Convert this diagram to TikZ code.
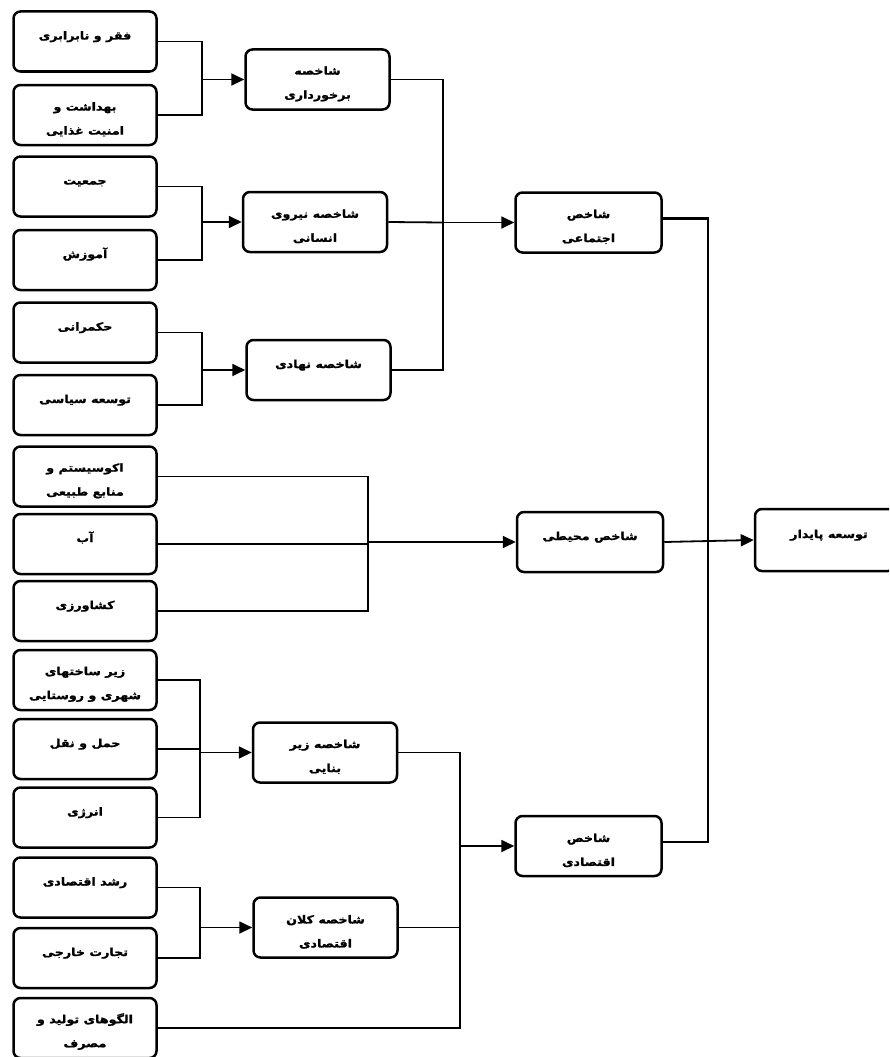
\documentclass[tikz,border=0pt]{standalone}
\usepackage{fontspec}
\usetikzlibrary{arrows.meta}
\TeXXeTstate=1
\newfontfamily\arabicfont[Script=Arabic, FakeStretch=1.15, BoldFeatures={FakeBold=1.5}]{DejaVu Sans}
\newcommand{\fa}[1]{{\arabicfont\bfseries\beginR #1\endR}}
\newcommand{\fb}[1]{\rule{0pt}{17pt}{\arabicfont\bfseries\beginR #1\endR}}
\newcommand{\fo}[1]{\raisebox{2pt}[0pt][0pt]{\fa{#1}}}
\begin{document}
\begin{tikzpicture}[x=1pt,y=-1pt,
  box/.style={draw, line width=2.5pt, rounded corners=7pt, minimum height=60pt, align=center, inner sep=1pt, font=\fontsize{11}{24}\selectfont},
  lbox/.style={box, minimum width=143pt},
  mbox/.style={box, minimum width=144pt},
  rbox/.style={box, minimum width=146pt},
  con/.style={line width=1.8pt},
  arr/.style={line width=1.8pt, -{Triangle[length=13pt,width=12pt]}}]
\useasboundingbox (0,0) rectangle (889,1057);
\clip (0,0) rectangle (889,1057);
% left column
\node[lbox] (L1) at (85,41.5) {\fo{فقر و نابرابری}};
\node[lbox] (L2) at (85,115) {\fb{بهداشت و}\\\fa{امنیت غذایی}};
\node[lbox] (L3) at (85,186.5) {\fo{جمعیت}};
\node[lbox] (L4) at (85,260) {\fo{آموزش}};
\node[lbox] (L5) at (85,332.5) {\fo{حکمرانی}};
\node[lbox] (L6) at (85,405) {\fo{توسعه سیاسی}};
\node[lbox] (L7) at (85,476.5) {\fb{اکوسیستم و}\\\fa{منابع طبیعی}};
\node[lbox] (L8) at (85,544) {\fo{آب}};
\node[lbox] (L9) at (85,611) {\fo{کشاورزی}};
\node[lbox] (L10) at (85,680) {\fb{زیر ساختهای}\\\fa{شهری و روستایی}};
\node[lbox] (L11) at (85,749) {\fo{حمل و نقل}};
\node[lbox] (L12) at (85,817.5) {\fo{انرژی}};
\node[lbox] (L13) at (85,887.5) {\fo{رشد اقتصادی}};
\node[lbox] (L14) at (85,958) {\fo{تجارت خارجی}};
\node[lbox] (L15) at (85,1028) {\fb{الگوهای تولید و}\\\fa{مصرف}};
% middle column
\node[mbox] (M1) at (317.5,79.5) {\fb{شاخصه}\\\fa{برخورداری}};
\node[mbox] (M2) at (315,222) {\fb{شاخصه نیروی}\\\fa{انسانی}};
\node[mbox] (M3) at (318.5,370) {\fo{شاخصه نهادی}};
\node[mbox] (M4) at (325,752.5) {\fb{شاخصه زیر}\\\fa{بنایی}};
\node[mbox] (M5) at (325.5,927.5) {\fb{شاخصه کلان}\\\fa{اقتصادی}};
% right column
\node[rbox] (R1) at (588.5,222.5) {\fb{شاخص}\\\fa{اجتماعی}};
\node[rbox] (R2) at (590,542) {\fo{شاخص محیطی}};
\node[rbox] (R3) at (588.5,846) {\fb{شاخص}\\\fa{اقتصادی}};
\node[rbox, minimum width=140pt, minimum height=62pt] (F) at (825,540) {\hspace*{8pt}\fo{توسعه پایدار}};
% junction coordinates
\coordinate (j1) at (202,79.5);
\coordinate (j2) at (202,222);
\coordinate (j3) at (202,370);
\coordinate (j4) at (368,542);
\coordinate (j5) at (200,752.5);
\coordinate (j6) at (200,927.5);
\coordinate (js) at (443,222.5);
\coordinate (je) at (460,846);
\coordinate (jf) at (708,540);
% group 1
\draw[con] (L1.east) -| (j1) |- (L2.east);
\draw[arr] (j1) -- (M1.west);
% group 2
\draw[con] (L3.east) -| (j2) |- (L4.east);
\draw[arr] (j2) -- (M2.west);
% group 3
\draw[con] (L5.east) -| (j3) |- (L6.east);
\draw[arr] (j3) -- (M3.west);
% group 4
\draw[con] (L7.east) -| (j4) |- (L9.east);
\draw[con] (L8.east) -- (L8.east -| j4);
\draw[arr] (j4) -- (R2.west);
% group 5
\draw[con] (L10.east) -| (j5) |- (L12.east);
\draw[con] (L11.east) -- (L11.east -| j5);
\draw[arr] (j5) -- (M4.west);
% group 6
\draw[con] (L13.east) -| (j6) |- (L14.east);
\draw[arr] (j6) -- (M5.west);
% social
\draw[con] (M1.east) -| (js) |- (M3.east);
\draw[con] (M2.east) -- (js);
\draw[arr] (js) -- (R1.west);
% economic
\draw[con] (M4.east) -| (je) |- (L15.east);
\draw[con] (M5.east) -- (M5.east -| je);
\draw[arr] (je) -- (R3.west);
% final
\draw[con, line width=2.2pt] ([yshift=4pt]R1.east) -| (jf) |- ([yshift=4pt]R3.east);
\draw[arr] (R2.east) -- (F.west);
\end{tikzpicture}
\end{document}
